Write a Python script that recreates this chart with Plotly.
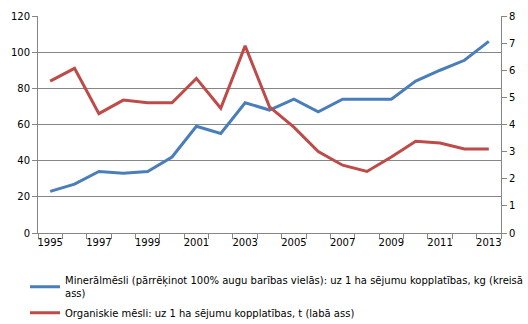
import plotly.graph_objects as go

years = list(range(1995, 2014))
mineral = [23, 27, 34, 33, 34, 42, 59, 55, 72, 68, 74, 67, 74, 74, 74, 84, 90, 95.5, 106]
organic = [5.6, 6.07, 4.4, 4.9, 4.8, 4.8, 5.7, 4.6, 6.9, 4.65, 3.9, 3.0, 2.5, 2.27, 2.8, 3.38, 3.32, 3.1, 3.1]
name_mineral = "Minerālmēsli (pārrēķinot 100% augu barības vielās): uz 1 ha sējumu kopplatības, kg (kreisā<br>ass)"
name_organic = "Organiskie mēsli: uz 1 ha sējumu kopplatības, t (labā ass)"
x_labels = [str(y) for y in range(1995, 2014, 2)]

fig = go.Figure()
fig.add_trace(go.Scatter(x=years, y=mineral, mode="lines", name=name_mineral, legendgroup="a",
                         line=dict(color="#4A7EBB", width=3)))
fig.add_trace(go.Scatter(x=years, y=organic, mode="lines", name=name_organic, yaxis="y2", legendgroup="b",
                         line=dict(color="#BE4B48", width=3)))

font = dict(family="DejaVu Sans", size=10, color="#000000")
fig.update_layout(
    width=528, height=324,
    margin=dict(l=38, r=27, t=16, b=91),
    paper_bgcolor="white", plot_bgcolor="white",
    font=font,
    xaxis=dict(range=[1994.5, 2013.5], tickvals=list(range(1995, 2014, 2)), ticktext=x_labels,
               ticks="", showline=True, linecolor="#868686", linewidth=1, showgrid=False,
               zeroline=False, tickfont=font, automargin=False,
               minor=dict(tick0=1994.5, dtick=1, ticks="outside", ticklen=5, tickcolor="#868686", showgrid=False)),
    yaxis=dict(range=[0, 120], dtick=20, ticks="outside", ticklen=5, tickcolor="#868686",
               showline=True, linecolor="#868686", showgrid=True, gridcolor="#868686", gridwidth=1,
               zeroline=False, tickfont=font, automargin=False),
    yaxis2=dict(range=[0, 8], dtick=1, overlaying="y", side="right", ticks="outside", ticklen=5,
                tickcolor="#868686", showline=True, linecolor="#868686", showgrid=False,
                zeroline=False, tickfont=font, automargin=False),
    legend=dict(x=-0.01, y=0.175, yref="container", xanchor="left", yanchor="top", orientation="v",
                font=dict(family="DejaVu Sans", size=10), itemwidth=30, tracegroupgap=2,
                bgcolor="rgba(0,0,0,0)"),
    showlegend=True,
)
fig.write_html("out.html")
